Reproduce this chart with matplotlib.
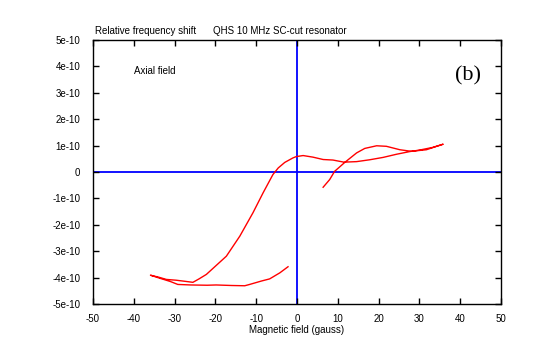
import numpy as np
import matplotlib
matplotlib.use("Agg")
import matplotlib.pyplot as plt

plt.rcParams['font.family'] = ['Liberation Sans', 'DejaVu Sans']

# field sweep (gauss) and relative frequency shift (units of 1e-10)
field = [6.4, 8.0, 9.2, 11.7, 14.6, 16.6, 19.5, 21.9, 25.2, 28.0, 31.7, 34.2, 35.8,
         33.3, 30.1, 27.6, 24.4, 21.1, 17.8, 14.6, 11.5, 8.8, 6.4, 3.9, 1.5, -0.2,
         -1.0, -3.0, -4.6, -5.9, -8.3, -10.8, -14.0, -17.3, -22.2, -24.0, -25.5,
         -27.5, -29.6, -32.0, -34.0, -35.9,
         -33.5, -31.0, -29.2, -26.0, -22.0, -19.8, -16.0, -12.8, -11.6, -8.7,
         -6.7, -4.2, -2.2]
shift = [-0.58, -0.29, 0.02, 0.36, 0.72, 0.89, 0.99, 0.97, 0.84, 0.78, 0.84, 0.97, 1.05,
         0.93, 0.83, 0.77, 0.67, 0.55, 0.46, 0.39, 0.37, 0.45, 0.47, 0.56, 0.62, 0.58,
         0.53, 0.36, 0.15, -0.10, -0.79, -1.55, -2.43, -3.19, -3.88, -4.05, -4.18,
         -4.14, -4.10, -4.07, -3.98, -3.91,
         -4.03, -4.15, -4.26, -4.28, -4.29, -4.28, -4.30, -4.31, -4.26, -4.13,
         -4.05, -3.82, -3.59]

xticks = [-50, -40, -30, -20, -10, 0, 10, 20, 30, 40, 50]
yticks = [5, 4, 3, 2, 1, 0, -1, -2, -3, -4, -5]
ylabels = ["5e-10", "4e-10", "3e-10", "2e-10", "1e-10", "0",
           "-1e-10", "-2e-10", "-3e-10", "-4e-10", "-5e-10"]

fig = plt.figure(figsize=(5.4, 3.55), dpi=100)
ax = fig.add_axes([0.172, 0.1437, 0.756, 0.744])

ax.axhline(0, color="#0000ff", lw=1.3, zorder=1)
ax.axvline(0, color="#0000ff", lw=1.3, zorder=1)
ax.plot(field, np.array(shift) * 1e-10, color="#ff0000", lw=1.0, zorder=2)

ax.set_xlim(-50, 50)
ax.set_ylim(-5e-10, 5e-10)
ax.set_xticks(xticks)
ax.set_xticklabels([str(t) for t in xticks])
ax.set_yticks(np.array(yticks) * 1e-10)
ax.set_yticklabels(ylabels)
ax.tick_params(direction="in", length=4, width=1, top=True, right=True,
               labelsize=7)
ax.tick_params(axis="y", pad=9)
ax.tick_params(axis="x", pad=7)
for s in ax.spines.values():
    s.set_linewidth(1.0)

ax.set_xlabel("Magnetic field (gauss)", fontsize=7, labelpad=1)
fig.text(95 / 540, 1 - 31 / 355, "Relative frequency shift", fontsize=7, va="center")
fig.text(213 / 540, 1 - 31 / 355, "QHS 10 MHz SC-cut resonator", fontsize=7, va="center")
fig.text(134 / 540, 1 - 71 / 355, "Axial field", fontsize=7, va="center")
fig.text(455 / 540, 1 - 76 / 355, "(b)", fontsize=16, va="center",
         family="Liberation Serif")

fig.savefig("out.png", dpi=100)
